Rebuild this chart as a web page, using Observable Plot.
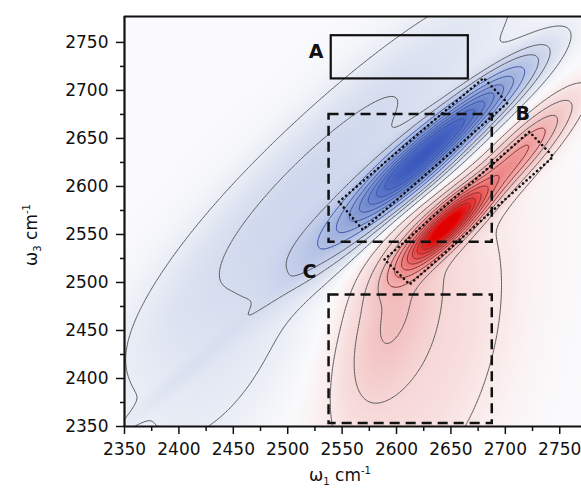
<!DOCTYPE html>
<html>
<head>
<meta charset="utf-8">
<script src="https://cdn.jsdelivr.net/npm/d3@7"></script>
<script src="https://cdn.jsdelivr.net/npm/@observablehq/plot@0.6"></script>
<style>
  html, body { margin: 0; padding: 0; background: #fff; overflow: hidden; }
  #chart svg { display: block; }
</style>
</head>
<body>
<div id="chart"></div>
<script>
// ---- spectral components (cm-1) ----
const compName  = ["blue core", "blue upper", "blue shoulder", "blue ridge", "blue lower", "blue diagonal", "red core", "red upper", "red tail", "red broad"];
const compX     = [2615, 2672, 2550, 2540, 2440, 2430, 2645, 2712, 2596, 2625];
const compY     = [2622, 2680, 2555, 2625, 2430, 2430, 2558, 2632, 2470, 2440];
const compAmp   = [-0.9, -0.5, -0.18, -0.11, -0.045, -0.02, 1.0, 0.3, 0.11, 0.07];
const compLong  = [50, 50, 55, 150, 110, 120, 36, 45, 65, 120];
const compWide  = [13, 12, 16, 32, 45, 5, 10, 11, 21, 50];
const compAngle = [45, 44, 44, 48, 62, 45, 48, 50, 74, 78];

// contour levels
const grayLevels = [-0.03, -0.09, -0.15, 0.03, 0.08, 0.15];
const blueLevels = [-0.25, -0.35, -0.45, -0.55, -0.65, -0.75, -0.85];
const redLevels  = [0.22, 0.3, 0.4, 0.5, 0.6, 0.7, 0.8];

// colour stops
const colorStops  = [-1.1, -0.9, -0.7, -0.5, -0.3, -0.15, -0.06, -0.02, 0, 0.02, 0.05, 0.12, 0.25, 0.45, 0.7, 1.0];
const colorValues = ["#3a58bd", "#4a67c3", "#6680cb", "#869bd4", "#a8b8e0", "#c6d0eb", "#dde3f1", "#eef1f7", "#fafafc", "#fbeeee", "#f8dfdf", "#f4caca", "#f0a8a8", "#ec7878", "#e64040", "#e00000"];

// axes
const xTicks = [2350, 2400, 2450, 2500, 2550, 2600, 2650, 2700, 2750];
const yTicks = [2350, 2400, 2450, 2500, 2550, 2600, 2650, 2700, 2750];
const xMinor = [2375, 2425, 2475, 2525, 2575, 2625, 2675, 2725];
const yMinor = [2375, 2425, 2475, 2525, 2575, 2625, 2675, 2725];
const xDomain = [2350, 2770];
const yDomain = [2350, 2777];

// annotation boxes
const boxA      = {x1: 2540, x2: 2666, y1: 2712, y2: 2757};
const dashBoxes = [{x1: 2538, x2: 2688, y1: 2542, y2: 2675}, {x1: 2538, x2: 2688, y1: 2353, y2: 2487}];
const dotBlueX  = [2547, 2680, 2702, 2569, 2547];
const dotBlueY  = [2584, 2713, 2687, 2555, 2584];
const dotRedX   = [2589, 2722, 2744, 2612, 2589];
const dotRedY   = [2524, 2657, 2631, 2498, 2524];
const labelText = ["A", "B", "C"];
const labelX    = [2526, 2716, 2520];
const labelY    = [2740, 2676, 2511];

// ---- field ----
const comps = compName.map((n, i) => {
  const t = compAngle[i] * Math.PI / 180;
  return {cx: compX[i], cy: compY[i], a: compAmp[i], sl: compLong[i], sw: compWide[i], c: Math.cos(t), s: Math.sin(t)};
});
function field(x, y) {
  let v = 0;
  for (const k of comps) {
    const dx = x - k.cx, dy = y - k.cy;
    const u = (dx * k.c + dy * k.s) / k.sl;
    const w = (-dx * k.s + dy * k.c) / k.sw;
    v += k.a * Math.exp(-0.5 * (u * u + w * w));
  }
  return v;
}

const colorFn = d3.scaleLinear().domain(colorStops).range(colorValues).interpolate(d3.interpolateRgb).clamp(true);

const extent = {x1: xDomain[0], x2: xDomain[1], y1: yDomain[0], y2: yDomain[1]};
const dotBlue = dotBlueX.map((x, i) => ({x, y: dotBlueY[i]}));
const dotRed = dotRedX.map((x, i) => ({x, y: dotRedY[i]}));
const labels = labelText.map((t, i) => ({t, x: labelX[i], y: labelY[i]}));

const chart = Plot.plot({
  width: 581,
  height: 493,
  marginLeft: 124,
  marginRight: 0,
  marginTop: 16,
  marginBottom: 67,
  style: {fontFamily: "DejaVu Sans, sans-serif", fontSize: "17px", color: "#111", background: "#fff"},
  x: {domain: xDomain, label: null},
  y: {domain: yDomain, label: null},
  color: {type: "linear", domain: [-1, 1], interpolate: t => colorFn(t * 2 - 1)},
  marks: [
    Plot.raster({fill: field, ...extent, pixelSize: 1}),
    Plot.contour({value: field, ...extent, pixelSize: 1.5, thresholds: grayLevels, fill: "none", stroke: "#5a5a5a", strokeWidth: 1}),
    Plot.contour({value: field, ...extent, pixelSize: 1.5, thresholds: blueLevels, fill: "none", stroke: "#3a56a8", strokeWidth: 1}),
    Plot.contour({value: field, ...extent, pixelSize: 1.5, thresholds: redLevels, fill: "none", stroke: "#8a3030", strokeWidth: 1}),
    Plot.rect([boxA], {x1: "x1", x2: "x2", y1: "y1", y2: "y2", fill: "none", stroke: "#111", strokeWidth: 2.2}),
    Plot.rect(dashBoxes, {x1: "x1", x2: "x2", y1: "y1", y2: "y2", fill: "none", stroke: "#111", strokeWidth: 2.5, strokeDasharray: "10 6"}),
    Plot.line(dotBlue, {x: "x", y: "y", stroke: "#111", strokeWidth: 2.6, strokeDasharray: "0.1 4.6", strokeLinecap: "round", curve: "linear-closed"}),
    Plot.line(dotRed, {x: "x", y: "y", stroke: "#111", strokeWidth: 2.6, strokeDasharray: "0.1 4.6", strokeLinecap: "round", curve: "linear-closed"}),
    Plot.text(labels, {x: "x", y: "y", text: "t", fontWeight: "bold", fontSize: 19, fill: "#111"}),
    Plot.ruleX([xDomain[0]], {stroke: "#111", strokeWidth: 2.2}),
    Plot.ruleY([yDomain[0]], {stroke: "#111", strokeWidth: 2.2}),
    Plot.ruleY([yDomain[1]], {stroke: "#111", strokeWidth: 2.2}),
    Plot.axisX({ticks: xTicks, tickSize: 8, tickPadding: 8, strokeWidth: 1.5, fontSize: 17, tickFormat: d => String(d), label: null}),
    Plot.axisX({ticks: xMinor, tickSize: 5, tickFormat: () => "", strokeWidth: 1.5, label: null}),
    Plot.axisY({ticks: yTicks, tickSize: 8, tickPadding: 8, strokeWidth: 1.5, fontSize: 17, tickFormat: d => String(d), label: null}),
    Plot.axisY({ticks: yMinor, tickSize: 4, tickFormat: () => "", strokeWidth: 1.5, label: null})
  ]
});

// axis titles with sub/superscripts
const svg = d3.select(chart);
const xt = svg.append("text").attr("x", 340).attr("y", 481).attr("text-anchor", "middle")
  .attr("font-family", "DejaVu Sans, sans-serif").attr("font-size", 17).attr("fill", "#111");
xt.append("tspan").text("ω");
xt.append("tspan").attr("font-size", 10).attr("dy", 4).text("1");
xt.append("tspan").attr("dy", -4).text(" cm");
xt.append("tspan").attr("font-size", 10).attr("dy", -7).text("-1");
const yt = svg.append("text").attr("transform", "translate(37,235) rotate(-90)").attr("text-anchor", "middle")
  .attr("font-family", "DejaVu Sans, sans-serif").attr("font-size", 17).attr("fill", "#111");
yt.append("tspan").text("ω");
yt.append("tspan").attr("font-size", 10).attr("dy", 4).text("3");
yt.append("tspan").attr("dy", -4).text(" cm");
yt.append("tspan").attr("font-size", 10).attr("dy", -7).text("-1");

document.getElementById("chart").appendChild(chart);
</script>
</body>
</html>
